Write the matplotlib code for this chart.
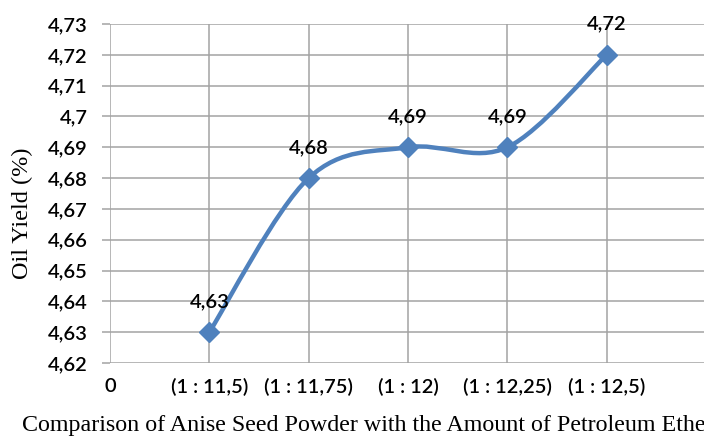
import matplotlib
matplotlib.use('Agg')
import matplotlib.pyplot as plt
from matplotlib.path import Path
from matplotlib.patches import PathPatch
import numpy as np

# oil yield per seed powder : solvent ratio
ratios = ['(1 : 11,5)', '(1 : 11,75)', '(1 : 12)', '(1 : 12,25)', '(1 : 12,5)']
yields = [4.63, 4.68, 4.69, 4.69, 4.72]
y_ticks = [4.62, 4.63, 4.64, 4.65, 4.66, 4.67, 4.68, 4.69, 4.70, 4.71, 4.72, 4.73]

line_col = '#4f81bd'
grid_col = '#a3a3a3'
label_font = 'Lato'
label_weight = 'semibold'
serif_font = 'Liberation Serif'


def comma(v):
    s = ('%.2f' % v).rstrip('0').rstrip('.')
    return s.replace('.', ',')


def smooth_path(xs, ys):
    # Excel style smoothed line: cubic bezier segments, control points
    # taken from the neighbouring points (ends use themselves)
    pts = list(zip(xs, ys))
    verts = [pts[0]]
    codes = [Path.MOVETO]
    n = len(pts)
    for i in range(n - 1):
        p0 = pts[max(i - 1, 0)]
        p1 = pts[i]
        p2 = pts[i + 1]
        p3 = pts[min(i + 2, n - 1)]
        c1 = (p1[0] + (p2[0] - p0[0]) / 6.0, p1[1] + (p2[1] - p0[1]) / 6.0)
        c2 = (p2[0] - (p3[0] - p1[0]) / 6.0, p2[1] - (p3[1] - p1[1]) / 6.0)
        verts += [c1, c2, p2]
        codes += [Path.CURVE4] * 3
    return Path(verts, codes)


fig = plt.figure(figsize=(7.04, 4.38), dpi=100)
# plot area runs past the right edge of the image
ax = fig.add_axes([110 / 704, 75 / 438, 596 / 704, 339 / 438])

x = np.arange(1, len(ratios) + 1)

ax.set_xlim(0, 6)
ax.set_ylim(4.62, 4.73)
ax.set_yticks(y_ticks)
ax.set_yticklabels([comma(v) for v in y_ticks], fontfamily=label_font,
                   fontweight=label_weight, fontsize=14.5)
ax.set_xticks(np.arange(0, 6))
ax.set_xticklabels(['0'] + ratios, fontfamily=label_font,
                   fontweight=label_weight, fontsize=14.5)

ax.grid(True, color=grid_col, linewidth=1.1)
ax.set_axisbelow(True)
for s in ax.spines.values():
    s.set_visible(False)
ax.tick_params(axis='y', length=6, width=1.1, color=grid_col, pad=10)
ax.tick_params(axis='x', length=0, pad=11)

ax.add_patch(PathPatch(smooth_path(x, yields), facecolor='none', edgecolor=line_col,
                       linewidth=3.2, capstyle='round', joinstyle='round', zorder=3))
ax.plot(x, yields, linestyle='none', marker='D', markersize=10, color=line_col, zorder=4)

for xi, yi in zip(x, yields):
    ax.annotate(comma(yi), (xi, yi), xytext=(0, 22), textcoords='offset points',
                ha='center', va='center', fontfamily=label_font,
                fontweight=label_weight, fontsize=14.5, zorder=5)

fig.text(22 / 704, 1 - 213 / 438, 'Oil Yield (%)', rotation=90, ha='center', va='center',
         fontfamily=serif_font, fontsize=17.5)
fig.text(22 / 704, 1 - 425 / 438, 'Comparison of Anise Seed Powder with the Amount of Petroleum Ether',
         ha='left', va='center', fontfamily=serif_font, fontsize=17.3)

fig.savefig('out.png', dpi=100)
